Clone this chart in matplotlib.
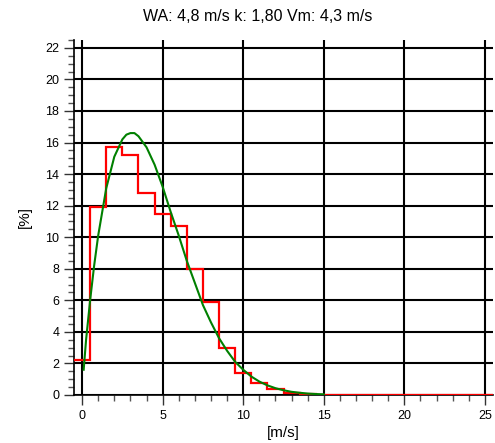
import numpy as np
import matplotlib.pyplot as plt
from matplotlib.ticker import MultipleLocator

plt.rcParams['font.family'] = ['Liberation Sans', 'DejaVu Sans']

# Measured frequency per 1 m/s bin (bin centres 0..25)
bin_centers = list(range(26))
freq = [2.2, 11.9, 15.7, 15.2, 12.8, 11.5, 10.7, 8.0, 5.9, 3.0, 1.4, 0.78,
        0.36, 0.15, 0.05, 0, 0, 0, 0, 0, 0, 0, 0, 0, 0, 0]

# Fitted distribution curve
curve_x = [0.1, 0.25, 0.5, 0.75, 1.0, 1.5, 2.0, 2.5, 2.75, 3.0, 3.25, 3.5, 4.0,
           4.5, 5.0, 5.5, 6.0, 6.5, 7.0, 7.5, 8.0, 8.5, 9.0, 9.5, 10.0, 10.5,
           11.0, 11.5, 12.0, 12.5, 13.0, 13.5, 14.0, 14.5, 15.0]
curve_y = [1.6, 3.5, 6.0, 8.2, 10.1, 13.1, 15.1, 16.2, 16.5, 16.6, 16.6, 16.4,
           15.7, 14.6, 13.2, 11.6, 10.1, 8.5, 7.1, 5.7, 4.6, 3.6, 2.8, 2.1, 1.6,
           1.17, 0.85, 0.61, 0.43, 0.30, 0.20, 0.14, 0.09, 0.06, 0.04]

title = 'WA: 4,8 m/s k: 1,80 Vm: 4,3 m/s'

fig = plt.figure(figsize=(4.95, 4.43), dpi=100)
ax = fig.add_axes([0.1495, 0.1084, 0.8465, 0.8013])

edges = np.append(np.array(bin_centers) - 0.5, bin_centers[-1] + 0.5)
ax.stairs(freq, edges, baseline=None, color='#ff0000', lw=1.6, zorder=3)
ax.plot(curve_x, curve_y, color='#008000', lw=1.5, zorder=4)

ax.set_xlim(-0.5, 25.5)
ax.set_ylim(0, 22.5)
ax.xaxis.set_major_locator(MultipleLocator(5))
ax.xaxis.set_minor_locator(MultipleLocator(1))
ax.yaxis.set_major_locator(MultipleLocator(2))
ax.yaxis.set_minor_locator(MultipleLocator(0.5))
ax.grid(True, which='major', color='black', lw=1.5, zorder=1)
ax.set_axisbelow(True)

for s in ['top', 'right']:
    ax.spines[s].set_visible(False)
for s in ['left', 'bottom']:
    ax.spines[s].set_color('black')
    ax.spines[s].set_linewidth(1.2)

ax.tick_params(which='major', length=7, width=1, labelsize=9, color='#333333')
ax.tick_params(which='minor', length=4, width=1, color='#555555')

ax.set_xlabel('[m/s]', fontsize=11, labelpad=3)
ax.set_ylabel('[%]', fontsize=11, labelpad=10)
fig.text(0.521, 0.962, title, ha='center', va='center', fontsize=11.5)

fig.savefig('out.png', dpi=100)
